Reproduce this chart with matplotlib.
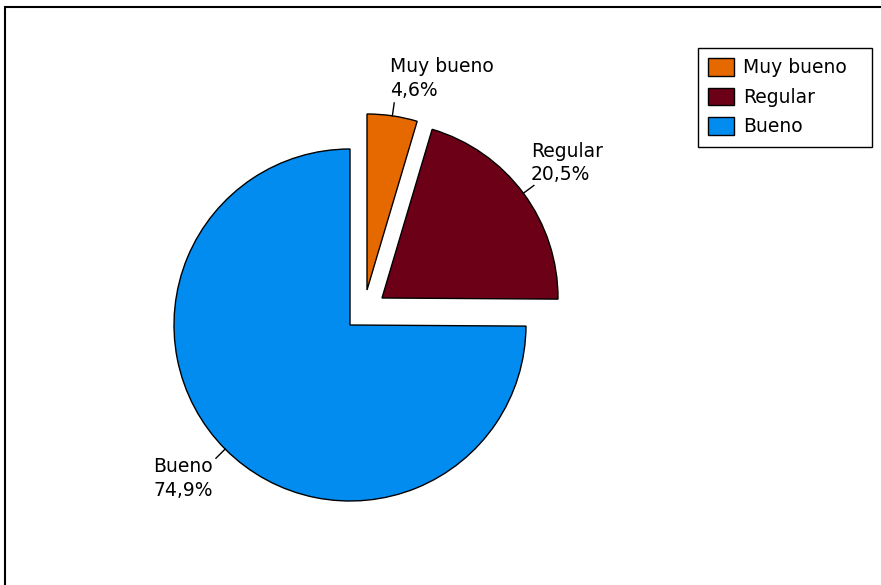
import matplotlib.pyplot as plt
import numpy as np

# Calificaciones
labels = ["Muy bueno", "Regular", "Bueno"]
values = [4.6, 20.5, 74.9]
colors = ["#E66900", "#6C0016", "#028CF0"]

W, H = 881, 585
fig = plt.figure(figsize=(W / 100, H / 100), dpi=100)
ax = fig.add_axes([0, 0, 1, 1])

R = 176
cx, cy = 350, H - 325
wedges, _ = ax.pie(values, colors=colors, startangle=90, counterclock=False,
                   radius=R, center=(cx, cy),
                   wedgeprops=dict(edgecolor="black", linewidth=1.0))

# the two small slices are pulled out of the pie
shifts = [(17, 35), (32, 27), (0, 0)]
for w, (dx, dy) in zip(wedges, shifts):
    w.set_center((cx + dx, cy + dy))

ax.set_xlim(0, W)
ax.set_ylim(0, H)
ax.set_aspect("equal")
ax.axis("off")

fs = 13.5
text_pos = [(390, H - 57, "left"), (531, H - 142, "left"), (213, H - 457, "right")]
for w, lab, v, (tx, ty, ha) in zip(wedges, labels, values, text_pos):
    ang = np.deg2rad((w.theta1 + w.theta2) / 2)
    x0, y0 = w.center
    p1 = (x0 + R * np.cos(ang), y0 + R * np.sin(ang))
    p2 = (x0 + (R + 13) * np.cos(ang), y0 + (R + 13) * np.sin(ang))
    ax.plot([p1[0], p2[0]], [p1[1], p2[1]], color="black", lw=1)
    ax.text(tx, ty, f"{lab}\n{v:.1f}%".replace(".", ","), fontsize=fs,
            ha=ha, va="top", multialignment=ha, linespacing=1.3)

leg = ax.legend(wedges, labels, loc="upper left",
                bbox_to_anchor=(698, H - 147, 174, 99), mode="expand",
                bbox_transform=ax.transData, fontsize=fs, frameon=True,
                fancybox=False, edgecolor="black", framealpha=1,
                handlelength=1.35, handleheight=1.05, handletextpad=0.5,
                labelspacing=0.55, borderpad=0.55, borderaxespad=0)
leg.get_frame().set_linewidth(1.0)

# outer frame, open on the right and bottom
ax.plot([5, 5, W + 5], [0, H - 7, H - 7], color="black", lw=1.5,
        solid_joinstyle="miter")

fig.savefig("out.png", dpi=100)
